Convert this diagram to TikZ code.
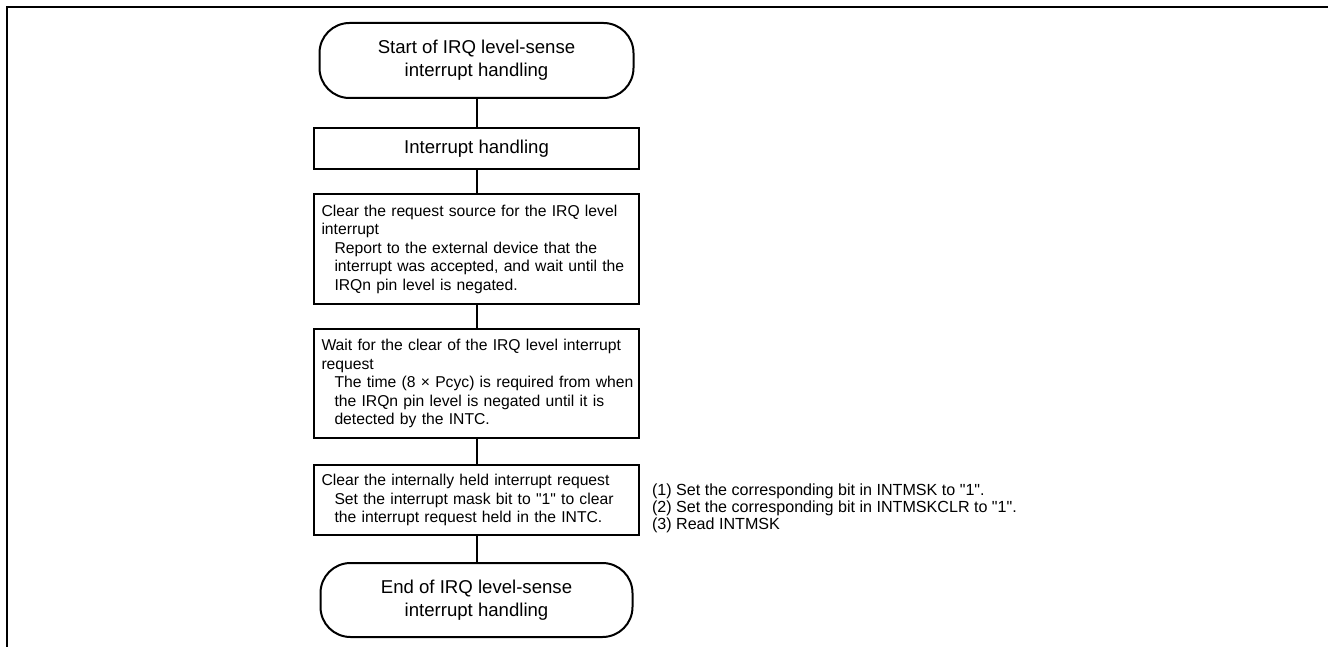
\documentclass[tikz,border=0pt]{standalone}
\usepackage{fontspec}
\setmainfont{Liberation Sans}[Ligatures=TeXOff]
\newcommand{\ind}{\hspace*{6.5pt}}
\hbadness=10000 \hfuzz=20pt
\begin{document}
\begin{tikzpicture}[x=0.5pt,y=-0.5pt,
  line width=1pt,
  term/.style={draw, rounded corners=15pt, minimum width=157pt, minimum height=37.5pt,
    align=center, inner sep=0pt, font=\fontsize{9.3}{11.5}\selectfont},
  ihbox/.style={draw, minimum width=162.5pt, minimum height=20.5pt, inner sep=0pt,
    align=center, font=\fontsize{9.3}{11.5}\selectfont},
  proc/.style={draw, text width=155pt, inner xsep=3.75pt, inner ysep=0pt,
    align=left, font=\fontsize{7.85}{9.25}\selectfont},
  conn/.style={draw, line width=1pt},
  note/.style={anchor=west, align=left, inner sep=0pt, font=\fontsize{8.05}{8.5}\selectfont}]
\useasboundingbox (0,0) rectangle (1328,647);
% frame
\draw[line width=1.2pt] (7,647) -- (7,7) -- (1328,7);
% nodes
\node[term] (start) at (476.5,60.5) {Start of IRQ level-sense\\interrupt handling};
\node[ihbox] (ih) at (476.5,148.5) {Interrupt handling};
\node[proc, minimum height=55pt] (b1) at (476.5,249) {Clear the request source for the IRQ level\\
interrupt\\
\ind Report to the external device that the\\
\ind \mbox{interrupt was accepted, and wait until the}\\
\ind IRQn pin level is negated.};
\node[proc, minimum height=54.5pt] (b2) at (476.5,383.5) {Wait for the clear of the IRQ level interrupt\\
request\\
\ind \mbox{The time (8 × Pcyc) is required from when}\\
\ind the IRQn pin level is negated until it is\\
\ind detected by the INTC.};
\node[proc, minimum height=35pt] (b3) at (476.5,500) {Clear the internally held interrupt request\\
\ind Set the interrupt mask bit to "1" to clear\\
\ind the interrupt request held in the INTC.};
\node[term, minimum width=156pt, minimum height=37pt] (end) at (476.5,600) {End of IRQ level-sense\\interrupt handling};
\node[note] (notes) at (651,508) {(1) Set the corresponding bit in INTMSK to "1".\\
(2) Set the corresponding bit in INTMSKCLR to "1".\\
(3) Read INTMSK};
% connectors
\draw[conn] (start) -- (ih);
\draw[conn] (ih) -- (b1);
\draw[conn] (b1) -- (b2);
\draw[conn] (b2) -- (b3);
\draw[conn] (b3) -- (end);
\end{tikzpicture}
\end{document}
